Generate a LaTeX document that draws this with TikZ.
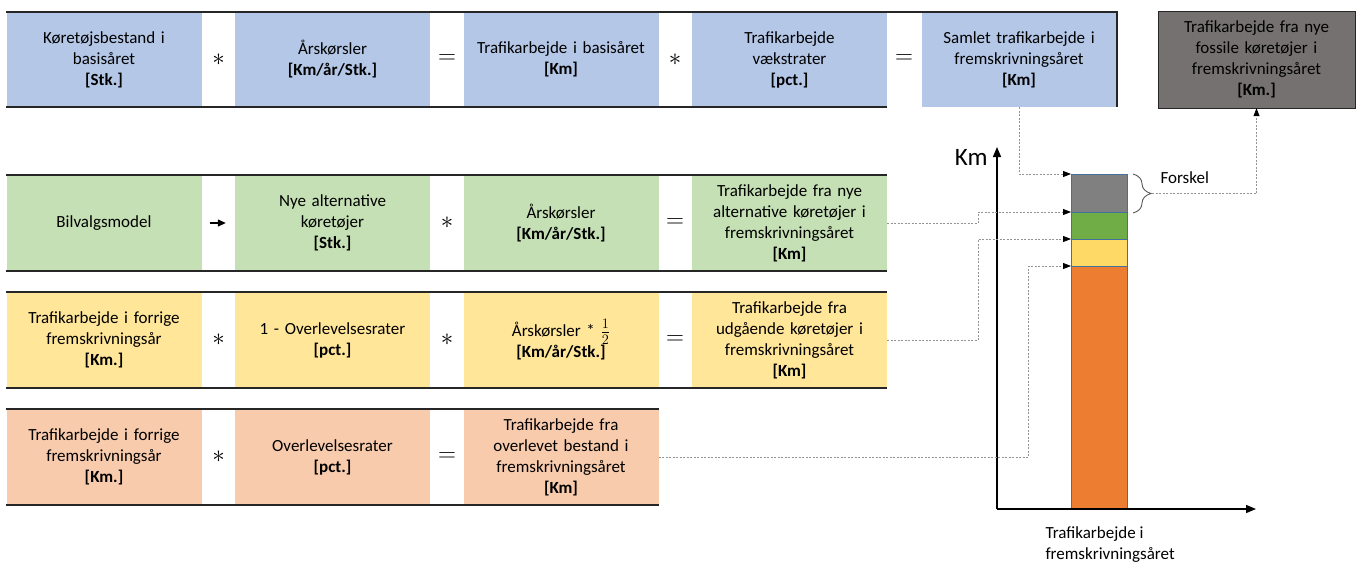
\documentclass[tikz,border=0pt]{standalone}
\usepackage{fontspec}
\setmainfont{Carlito}
\usetikzlibrary{arrows.meta,positioning,calc,decorations.pathreplacing}
\definecolor{cblue}{HTML}{B4C7E7}
\definecolor{cgreen}{HTML}{C5E0B4}
\definecolor{cyellow}{HTML}{FFE699}
\definecolor{corange}{HTML}{F8CBAD}
\definecolor{cdark}{HTML}{757171}
\definecolor{ruledark}{HTML}{262626}
\definecolor{bargray}{HTML}{808080}
\definecolor{bargreen}{HTML}{70AD47}
\definecolor{baryellow}{HTML}{FFD966}
\definecolor{barorange}{HTML}{ED7D31}
\definecolor{barline}{HTML}{41719C}
\tikzset{
  cellbox/.style={minimum width=195pt, minimum height=95pt, inner sep=2pt, align=center, text width=189pt},
  oprule/.style={line width=1.8pt, draw=ruledark},
  opsign/.style={font=\fontsize{30}{34}\selectfont},
  linkarr/.style={-{Triangle[length=8pt,width=6pt,color=black]}, dash pattern=on 2pt off 1.5pt, draw=gray!85, line width=0.8pt},
}

\begin{document}
\begin{tikzpicture}[
  x=1pt, y=-1pt,
  font=\fontsize{17}{21}\selectfont,
  barseg/.style={draw=barline, line width=1pt, minimum width=56pt, inner sep=0pt, anchor=north west},
  axisarr/.style={-{Triangle[length=10pt,width=8pt]}, line width=1.4pt},
]
  \useasboundingbox (0,0) rectangle (1362,562);

  % basisaar
  \node[cellbox, fill=cblue] (kbest)  at (104,59.5)   {Køretøjsbestand i\\basisåret\\\textbf{[Stk.]}};
  \node[opsign]              (op11)   at (218.5,59.5) {$\ast$};
  \node[cellbox, fill=cblue] (aars1)  at (332.5,59.5) {Årskørsler\\\textbf{[Km/år/Stk.]}};
  \node[opsign]              (op12)   at (447,59.5)   {$=$};
  \node[cellbox, fill=cblue] (tbas)   at (561,59.5)   {Trafikarbejde i basisåret\\\textbf{[Km]}};
  \node[opsign]              (op13)   at (675,59.5)   {$\ast$};
  \node[cellbox, fill=cblue] (vaekst) at (789.5,59.5) {Trafikarbejde\\vækstrater\\\textbf{[pct.]}};
  \node[opsign]              (op14)   at (904,59.5)   {$=$};
  \node[cellbox, fill=cblue] (samlet) at (1019,59.5)  {Samlet trafikarbejde i\\fremskrivningsåret\\\textbf{[Km]}};

  \node[cellbox, fill=cdark, draw=ruledark, minimum width=197pt, minimum height=97pt] (fossil) at (1256.5,59.5)
    {Trafikarbejde fra nye\\fossile køretøjer i\\fremskrivningsåret\\\textbf{[Km.]}};

  % nye alternative
  \node[cellbox, fill=cgreen] (bilv)  at (104,223)   {Bilvalgsmodel};
  \node[cellbox, fill=cgreen] (nyalt) at (332.5,223) {Nye alternative\\køretøjer\\\textbf{[Stk.]}};
  \node[opsign]               (op22)  at (447,223)   {$\ast$};
  \node[cellbox, fill=cgreen] (aars2) at (561,223)   {Årskørsler\\\textbf{[Km/år/Stk.]}};
  \node[opsign]               (op23)  at (675,223)   {$=$};
  \node[cellbox, fill=cgreen] (tnye)  at (789.5,223) {Trafikarbejde fra nye\\alternative køretøjer i\\fremskrivningsåret\\\textbf{[Km]}};

  % udgaaende
  \node[cellbox, fill=cyellow] (tforr1) at (104,340)   {Trafikarbejde i forrige\\fremskrivningsår\\\textbf{[Km.]}};
  \node[opsign]                (op31)   at (218.5,340) {$\ast$};
  \node[cellbox, fill=cyellow] (overl1) at (332.5,340) {1 - Overlevelsesrater\\\textbf{[pct.]}};
  \node[opsign]                (op32)   at (447,340)   {$\ast$};
  \node[cellbox, fill=cyellow] (aars3)  at (561,340)   {Årskørsler * {\fontsize{21}{24}\selectfont$\frac{1}{2}$}\\\textbf{[Km/år/Stk.]}};
  \node[opsign]                (op33)   at (675,340)   {$=$};
  \node[cellbox, fill=cyellow] (tudg)   at (789.5,340) {Trafikarbejde fra\\udgående køretøjer i\\fremskrivningsåret\\\textbf{[Km]}};

  % overlevet
  \node[cellbox, fill=corange] (tforr2) at (104,457)   {Trafikarbejde i forrige\\fremskrivningsår\\\textbf{[Km.]}};
  \node[opsign]                (op41)   at (218.5,457) {$\ast$};
  \node[cellbox, fill=corange] (overl2) at (332.5,457) {Overlevelsesrater\\\textbf{[pct.]}};
  \node[opsign]                (op42)   at (447,457)   {$=$};
  \node[cellbox, fill=corange] (toverl) at (561,457)   {Trafikarbejde fra\\overlevet bestand i\\fremskrivningsåret\\\textbf{[Km]}};

  \draw[oprule] (kbest.north west) -- (samlet.north east) -- (samlet.south east);
  \draw[oprule] (kbest.south west) -- (vaekst.south east);
  \draw[oprule] (bilv.north west) -- (tnye.north east);
  \draw[oprule] (bilv.south west) -- (tnye.south east);
  \draw[oprule] (tforr1.north west) -- (tudg.north east);
  \draw[oprule] (tforr1.south west) -- (tudg.south east);
  \draw[oprule] (tforr2.north west) -- (toverl.north east);
  \draw[oprule] (tforr2.south west) -- (toverl.south east);

  \draw[-{Triangle[length=8pt,width=7pt]}, line width=1.3pt, shorten <=8pt, shorten >=9pt] (bilv) -- (nyalt);

  % soejle
  \coordinate (orig) at (997,509);
  \coordinate (ytip) at (997,147);
  \coordinate (xtip) at (1256,509);
  \node[barseg, fill=bargray,   minimum height=38pt]  (sgray)   at (1071,174) {};
  \node[barseg, fill=bargreen,  minimum height=27pt]  (sgreen)  at (1071,212) {};
  \node[barseg, fill=baryellow, minimum height=27pt]  (syellow) at (1071,239) {};
  \node[barseg, fill=barorange, minimum height=243pt] (sorange) at (1071,266) {};
  \draw[axisarr] (orig) -- (ytip);
  \draw[axisarr] (orig) -- (xtip);
  \node[anchor=east, font=\fontsize{25}{30}\selectfont] (kmlab) at (991,157) {Km};
  \node[anchor=north west, align=left] (xlab) at (1042,523) {Trafikarbejde i\\fremskrivningsåret};

  \draw[decorate, decoration={brace, amplitude=18pt}, draw=gray!70!black, line width=0.9pt]
    ([xshift=5pt]sgray.north east) -- ([xshift=5pt]sgray.south east);
  \coordinate (ftip) at ([xshift=24pt]sgray.east);
  \node[anchor=west] (forskel) at (1157,178) {Forskel};

  \draw[linkarr] (samlet.south) |- (sgray.north west);
  \draw[linkarr] (tnye.east) -- ++(91,0) |- (sgreen.north west);
  \draw[linkarr] (tudg.east) -- ++(91,0) |- (syellow.north west);
  \draw[linkarr] (toverl.east) -- ++(370,0) |- (sorange.north west);
  \draw[linkarr] (ftip) -| (fossil.south);
\end{tikzpicture}
\end{document}
